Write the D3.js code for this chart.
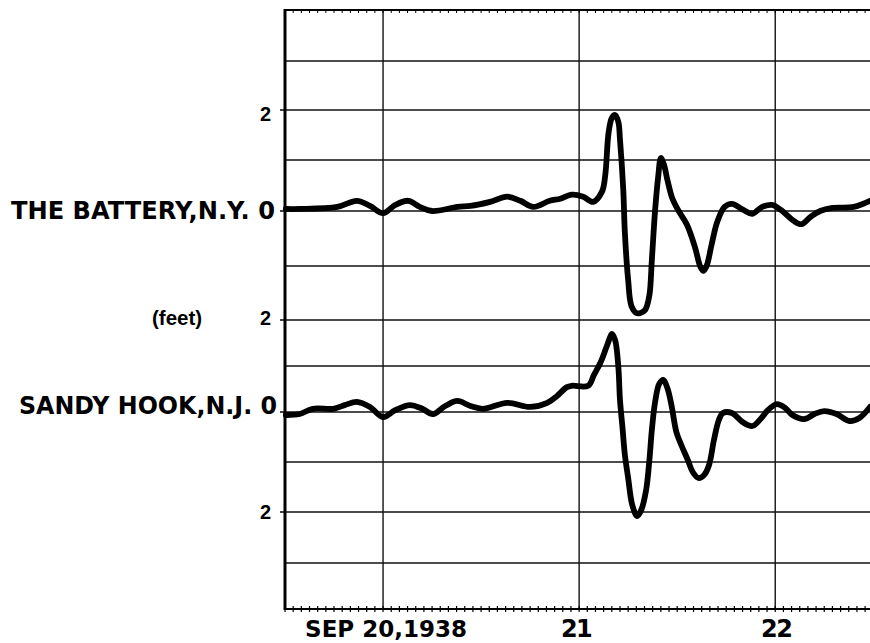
<!DOCTYPE html>
<html>
<head>
<meta charset="utf-8">
<script src="https://cdn.jsdelivr.net/npm/d3@7"></script>
<style>
  html, body { margin: 0; padding: 0; background: #fff; }
  svg { display: block; }
</style>
</head>
<body>
<svg id="chart" width="870" height="643"></svg>
<script>
// ---- Data (hours after Sep 20, 1938 00:00; water level in feet) ----
const batteryHours = [-11.9,-10.2,-5.6,-3.2,-1.6,0,1.5,3.1,4.5,6.0,9.1,10.7,13.1,15.2,16.8,18.4,20.4,21.7,23.1,24.5,25.7,26.8,27.2,27.6,28.0,28.4,28.8,29.0,29.4,29.6,30.0,30.4,31.0,31.5,32.1,32.6,32.9,33.3,33.7,34.0,34.4,34.8,35.4,36.1,37.2,38.2,38.8,39.2,39.6,40.2,40.9,41.8,42.7,44.1,45.2,46.4,47.6,48.7,50.1,51.2,52.3,53.5,55.0,57.6,59.6];
const batteryFeet  = [0.04,0.04,0.08,0.2,0.1,-0.04,0.12,0.2,0.08,0,0.08,0.1,0.18,0.28,0.2,0.08,0.2,0.24,0.32,0.28,0.18,0.38,0.71,1.54,1.84,1.9,1.76,1.41,0.42,-0.4,-1.26,-1.74,-1.87,-1.87,-1.81,-1.54,-0.89,0.02,0.71,1.04,0.9,0.61,0.25,0.02,-0.25,-0.67,-1.0,-1.09,-1.0,-0.62,-0.2,0.08,0.14,0.02,-0.05,0.08,0.12,0.02,-0.16,-0.24,-0.11,0,0.06,0.08,0.2];

const sandyHours = [-11.9,-10.2,-8.6,-6.1,-4.7,-3.2,-1.6,0,1.5,3.3,4.8,6.1,7.6,9.1,10.7,12.2,15.2,18.0,20.1,21.3,22.5,23.1,25.1,25.8,26.6,27.3,27.8,28.0,28.4,28.8,29.0,29.3,29.6,30.0,30.5,31.1,31.6,32.2,32.6,32.9,33.3,33.8,34.3,34.8,35.3,35.9,36.5,37.3,37.9,38.6,39.3,39.9,40.5,41.1,41.6,42.7,44.0,45.2,46.2,47.1,48.2,49.2,50.1,51.6,52.8,54.0,55.5,57.1,58.3,59.6];
const sandyFeet  = [-0.06,-0.04,0.07,0.07,0.15,0.22,0.11,-0.1,0.04,0.15,0.07,-0.04,0.13,0.24,0.13,0.07,0.2,0.11,0.2,0.35,0.54,0.57,0.57,0.8,1.07,1.39,1.63,1.7,1.57,0.98,0.26,-0.3,-0.86,-1.32,-1.86,-2.08,-1.96,-1.56,-0.96,-0.36,0.22,0.61,0.7,0.52,0.15,-0.4,-0.66,-0.96,-1.2,-1.32,-1.26,-1.06,-0.56,-0.16,-0.02,-0.02,-0.2,-0.28,-0.14,0.04,0.17,0.09,-0.06,-0.14,-0.04,0.02,-0.04,-0.18,-0.12,0.11];

const stationNames   = ["THE BATTERY,N.Y. 0", "SANDY HOOK,N.J. 0"];
const stationOffsets = [8, 4];          // grid unit of each station's zero line
const dayTickHours   = [0, 24, 48];
const dayTickLabels  = ["SEP 20,1938", "21", "22"];
const footLabelUnits = [10, 6, 2];      // grid units carrying the "2" labels
const footLabelText  = ["2", "2", "2"];
const unitLabel      = "(feet)";

// ---- Scales ----
const svg = d3.select("#chart");
const x = d3.scaleLinear().domain([-12, 59.6]).range([285, 870]);
const y = d3.scaleLinear()
  .domain([0,1,2,3,4,5,6,7,8,9,10,11,12])
  .range([609,563,512,462,412,366,320,266,211,160,110,61,10]);

// ---- Grid ----
const g = svg.append("g");
const hUnits = d3.range(1, 12);
g.selectAll("line.h").data(hUnits).join("line")
  .attr("x1", x(-12)).attr("x2", 870)
  .attr("y1", d => y(d)).attr("y2", d => y(d))
  .attr("stroke", "#111").attr("stroke-width", 1.4);
g.selectAll("line.v").data(dayTickHours).join("line")
  .attr("x1", d => x(d)).attr("x2", d => x(d))
  .attr("y1", y(12)).attr("y2", y(0))
  .attr("stroke", "#111").attr("stroke-width", 1.4);

// top border with small hourly ticks
g.append("line").attr("x1", x(-12)).attr("x2", 870).attr("y1", y(12)).attr("y2", y(12))
  .attr("stroke", "#000").attr("stroke-width", 2);
const hourTicks = d3.range(-12, 60, 1);
g.selectAll("line.tt").data(hourTicks).join("line")
  .attr("x1", d => x(d)).attr("x2", d => x(d))
  .attr("y1", y(12)).attr("y2", y(12) + 3)
  .attr("stroke", "#000").attr("stroke-width", 1);

// bottom border with hourly ticks
g.append("line").attr("x1", x(-12)).attr("x2", 870).attr("y1", y(0)).attr("y2", y(0))
  .attr("stroke", "#000").attr("stroke-width", 2.2);
g.selectAll("line.bt").data(hourTicks).join("line")
  .attr("x1", d => x(d)).attr("x2", d => x(d))
  .attr("y1", y(0) - 3).attr("y2", y(0) + 3)
  .attr("stroke", "#000").attr("stroke-width", 1.2);

// left border
g.append("line").attr("x1", x(-12)).attr("x2", x(-12)).attr("y1", y(12) - 1).attr("y2", y(0) + 1)
  .attr("stroke", "#000").attr("stroke-width", 3);
// small ticks left of border at labelled levels
g.selectAll("line.lt").data(footLabelUnits.concat(stationOffsets)).join("line")
  .attr("x1", x(-12) - 5).attr("x2", x(-12))
  .attr("y1", d => y(d)).attr("y2", d => y(d))
  .attr("stroke", "#000").attr("stroke-width", 1.5);

// ---- Traces ----
const series = [
  { hours: batteryHours, feet: batteryFeet, off: stationOffsets[0] },
  { hours: sandyHours,   feet: sandyFeet,   off: stationOffsets[1] }
];
const line = d3.line().curve(d3.curveCatmullRom.alpha(0.5));
svg.append("g").selectAll("path").data(series).join("path")
  .attr("d", s => line(s.hours.map((h, i) => [x(h), y(s.off + s.feet[i])])))
  .attr("fill", "none").attr("stroke", "#000")
  .attr("stroke-width", 5.8).attr("stroke-linejoin", "round").attr("stroke-linecap", "round");

// ---- Labels ----
const lettering = "'DejaVu Sans', sans-serif";
const stationStart = [11, 19];
const stationLen = [264, 258];
const stationBaseline = [y(stationOffsets[0]) + 8, y(stationOffsets[1]) + 2];
svg.append("g").selectAll("text").data(stationNames).join("text")
  .attr("x", (d, i) => stationStart[i])
  .attr("y", (d, i) => stationBaseline[i])
  .attr("textLength", (d, i) => stationLen[i])
  .attr("lengthAdjust", "spacingAndGlyphs")
  .attr("font-family", lettering).attr("font-weight", "bold").attr("font-size", 25)
  .attr("fill", "#000")
  .text(d => d);

// "2" labels
const footLabelShift = [11, 5, 7];
svg.append("g").selectAll("text").data(footLabelUnits).join("text")
  .attr("x", 271).attr("y", (d, i) => y(d) + footLabelShift[i])
  .attr("text-anchor", "end")
  .attr("font-family", "'Liberation Sans', Arial, sans-serif").attr("font-weight", "bold")
  .attr("font-size", 20).attr("fill", "#000")
  .text((d, i) => footLabelText[i]);

svg.append("text")
  .attr("x", 152).attr("y", y(6) + 5)
  .attr("font-family", "'Liberation Sans', Arial, sans-serif").attr("font-weight", "bold")
  .attr("font-size", 20.5).attr("fill", "#000")
  .text(unitLabel);

// x tick labels
svg.append("g").selectAll("text").data(dayTickHours).join("text")
  .attr("x", (d, i) => x(d) + (i === 0 ? 3 : (i === 1 ? -3 : 1)))
  .attr("y", 637)
  .attr("text-anchor", "middle")
  .attr("font-family", lettering).attr("font-weight", "bold")
  .attr("font-size", (d, i) => i === 0 ? 23 : 24)
  .attr("letter-spacing", (d, i) => i === 0 ? 0 : -1.5)
  .attr("fill", "#000")
  .text((d, i) => dayTickLabels[i]);
</script>
</body>
</html>
